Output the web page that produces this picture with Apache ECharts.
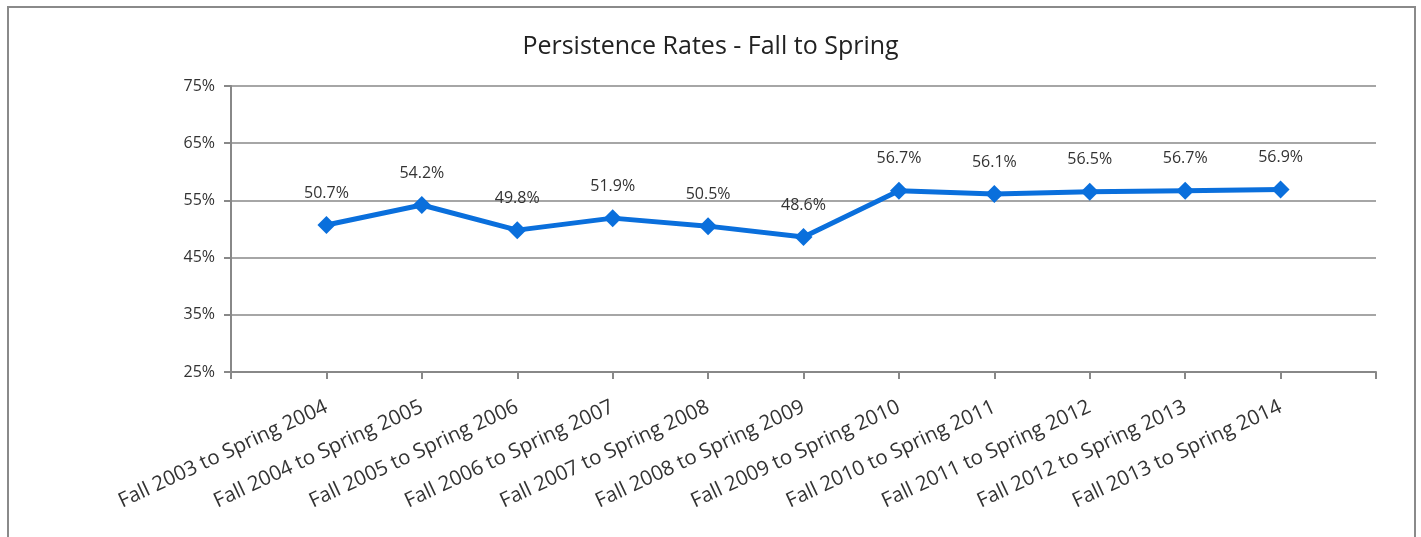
<!DOCTYPE html>
<html><head><meta charset="utf-8">
<script src="https://cdn.jsdelivr.net/npm/echarts@6/dist/echarts.min.js"></script>
<style>
html,body{margin:0;padding:0;background:#fff;}
#c{position:absolute;left:0;top:0;width:1421px;height:537px;}
#frame{position:absolute;left:7px;top:6px;width:1405px;height:540px;border:2px solid #8a8a8a;pointer-events:none;}
</style></head>
<body>
<div id="c"></div>
<div id="frame"></div>
<script>
const titleText = 'Persistence Rates - Fall to Spring';
const categories = ['Fall 2003 to Spring 2004','Fall 2004 to Spring 2005','Fall 2005 to Spring 2006','Fall 2006 to Spring 2007','Fall 2007 to Spring 2008','Fall 2008 to Spring 2009','Fall 2009 to Spring 2010','Fall 2010 to Spring 2011','Fall 2011 to Spring 2012','Fall 2012 to Spring 2013','Fall 2013 to Spring 2014'];
const rates = [50.7, 54.2, 49.8, 51.9, 50.5, 48.6, 56.7, 56.1, 56.5, 56.7, 56.9];
const yMin = 25, yMax = 75, yStep = 10;

const cats = [''].concat(categories, ['']);
const vals = [null].concat(rates, [null]);

const chart = echarts.init(document.getElementById('c'));
chart.setOption({
  animation:false,
  title:{text:titleText,left:'center',top:29,textStyle:{fontFamily:'Open Sans',fontSize:25,fontWeight:'normal',color:'#222'}},
  grid:{left:231,right:45,top:86,bottom:165},
  xAxis:{type:'category',data:cats,boundaryGap:false,
    axisLine:{lineStyle:{color:'#888',width:2}},
    axisTick:{show:true,interval:0,length:7,lineStyle:{color:'#888',width:2}},
    axisLabel:{interval:0,rotate:25,margin:34,fontFamily:'Open Sans',fontSize:20.5,color:'#333'},
    splitLine:{show:false}},
  yAxis:{type:'value',min:yMin,max:yMax,interval:yStep,
    axisLine:{show:true,lineStyle:{color:'#888',width:2}},
    axisTick:{show:true,length:7,lineStyle:{color:'#888',width:2}},
    axisLabel:{formatter:v=>v+'%',margin:16,fontFamily:'Open Sans',fontSize:16,color:'#333'},
    splitLine:{lineStyle:{color:'#888',width:1.5}}},
  series:[{type:'line',data:vals,symbol:'diamond',symbolSize:18,
    lineStyle:{color:'#0a6fdc',width:5},itemStyle:{color:'#0a6fdc'},
    label:{show:true,position:'top',distance:15,formatter:p=>p.value.toFixed(1)+'%',fontFamily:'Open Sans',fontSize:16,color:'#333'}}]
});
</script>
</body></html>
